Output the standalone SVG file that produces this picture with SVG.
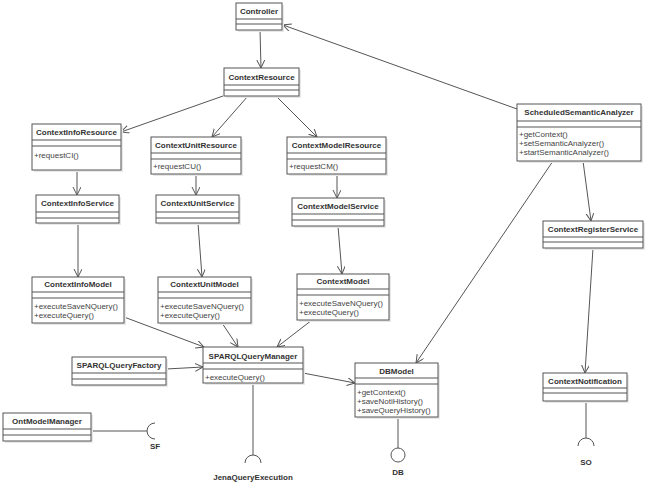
<svg xmlns="http://www.w3.org/2000/svg" width="661" height="483" viewBox="0 0 661 483">
<style>
.box{fill:#fff;stroke:#555;stroke-width:1}
.sh{fill:#e8e8e8;stroke:none}
.sep{stroke:#555;stroke-width:1}
.nm{font-family:"Liberation Sans",Arial,sans-serif;font-size:8px;font-weight:bold;fill:#333;text-anchor:middle}
.op{font-family:"Liberation Sans",Arial,sans-serif;font-size:8px;fill:#444}
.lb{font-family:"Liberation Sans",Arial,sans-serif;font-size:8px;font-weight:bold;fill:#333;text-anchor:middle}
.ln{stroke:#555;stroke-width:1;fill:none}
.ar{marker-end:url(#arr)}
</style>
<defs>
<marker id="arr" markerUnits="userSpaceOnUse" markerWidth="10" markerHeight="10" refX="8" refY="4" orient="auto">
<path d="M0,0 L8,4 L0,8" fill="none" stroke="#555" stroke-width="1"/>
</marker>
</defs>
<rect width="661" height="483" fill="#fff"/>

<g id="connectors">
<line class="ln ar" x1="260" y1="30" x2="261" y2="68"/>
<line class="ln ar" x1="517" y1="109" x2="283" y2="25"/>
<line class="ln ar" x1="223" y1="96" x2="121" y2="132"/>
<line class="ln ar" x1="248" y1="96" x2="212" y2="137"/>
<line class="ln ar" x1="276" y1="96" x2="317" y2="137"/>
<line class="ln ar" x1="77" y1="170" x2="77" y2="195"/>
<line class="ln ar" x1="196" y1="174" x2="196" y2="195"/>
<line class="ln ar" x1="337" y1="174" x2="337" y2="198"/>
<line class="ln ar" x1="78" y1="223" x2="78" y2="277"/>
<line class="ln ar" x1="198" y1="223" x2="202" y2="277"/>
<line class="ln ar" x1="338" y1="226" x2="342" y2="274"/>
<line class="ln ar" x1="124" y1="317" x2="204" y2="347"/>
<line class="ln ar" x1="222" y1="323" x2="238" y2="347"/>
<line class="ln ar" x1="312" y1="320" x2="277" y2="347"/>
<line class="ln ar" x1="166" y1="369" x2="203" y2="367"/>
<line class="ln ar" x1="303" y1="373" x2="355" y2="383"/>
<line class="ln ar" x1="553" y1="161" x2="416" y2="363"/>
<line class="ln ar" x1="583" y1="161" x2="591" y2="221"/>
<line class="ln ar" x1="593" y1="248" x2="585" y2="373"/>
<line class="ln" x1="91" y1="431" x2="147" y2="431"/>
<path class="ln" d="M155,423 A8,8 0 0 0 155,439"/>
<line class="ln" x1="253" y1="383" x2="253" y2="455"/>
<path class="ln" d="M245,463 A8,8 0 0 1 261,463"/>
<line class="ln" x1="398" y1="417" x2="398" y2="448"/>
<circle class="ln" cx="398" cy="455" r="7"/>
<line class="ln" x1="586" y1="401" x2="586" y2="438"/>
<path class="ln" d="M578,446 A8,8 0 0 1 594,446"/>
<text class="lb" x="155" y="449">SF</text>
<text class="lb" x="253" y="480">JenaQueryExecution</text>
<text class="lb" x="398" y="475">DB</text>
<text class="lb" x="586" y="465">SO</text>
</g>

<g id="controller">
<rect class="sh" x="238" y="5" width="46" height="27"/>
<rect class="box" x="236" y="3" width="46" height="27"/>
<line class="sep" x1="236" y1="19" x2="282" y2="19"/><line class="sep" x1="236" y1="24" x2="282" y2="24"/>
<text class="nm" x="259" y="14">Controller</text>
</g>

<g id="contextResource">
<rect class="sh" x="226" y="70" width="75" height="28"/>
<rect class="box" x="224" y="68" width="75" height="28"/>
<line class="sep" x1="224" y1="85" x2="299" y2="85"/><line class="sep" x1="224" y1="90" x2="299" y2="90"/>
<text class="nm" x="261.5" y="80">ContextResource</text>
</g>

<g id="contextInfoResource">
<rect class="sh" x="34" y="126" width="89" height="46"/>
<rect class="box" x="32" y="124" width="89" height="46"/>
<line class="sep" x1="32" y1="140" x2="121" y2="140"/><line class="sep" x1="32" y1="146" x2="121" y2="146"/>
<text class="nm" x="76.5" y="135">ContextInfoResource</text>
<text class="op" x="34" y="158">+requestCI()</text>
</g>

<g id="contextUnitResource">
<rect class="sh" x="153" y="139" width="90" height="37"/>
<rect class="box" x="151" y="137" width="90" height="37"/>
<line class="sep" x1="151" y1="153" x2="241" y2="153"/><line class="sep" x1="151" y1="159" x2="241" y2="159"/>
<text class="nm" x="196" y="148">ContextUnitResource</text>
<text class="op" x="153" y="169">+requestCU()</text>
</g>

<g id="contextModelResource">
<rect class="sh" x="289" y="139" width="99" height="37"/>
<rect class="box" x="287" y="137" width="99" height="37"/>
<line class="sep" x1="287" y1="153" x2="386" y2="153"/><line class="sep" x1="287" y1="159" x2="386" y2="159"/>
<text class="nm" x="336.5" y="148">ContextModelResource</text>
<text class="op" x="289" y="169">+requestCM()</text>
</g>

<g id="contextInfoService">
<rect class="sh" x="38" y="197" width="83" height="28"/>
<rect class="box" x="36" y="195" width="83" height="28"/>
<line class="sep" x1="36" y1="212" x2="119" y2="212"/><line class="sep" x1="36" y1="218" x2="119" y2="218"/>
<text class="nm" x="77.5" y="206">ContextInfoService</text>
</g>

<g id="contextUnitService">
<rect class="sh" x="158" y="197" width="83" height="28"/>
<rect class="box" x="156" y="195" width="83" height="28"/>
<line class="sep" x1="156" y1="212" x2="239" y2="212"/><line class="sep" x1="156" y1="218" x2="239" y2="218"/>
<text class="nm" x="197.5" y="206">ContextUnitService</text>
</g>

<g id="contextModelService">
<rect class="sh" x="294" y="200" width="92" height="28"/>
<rect class="box" x="292" y="198" width="92" height="28"/>
<line class="sep" x1="292" y1="214" x2="384" y2="214"/><line class="sep" x1="292" y1="220" x2="384" y2="220"/>
<text class="nm" x="338" y="209">ContextModelService</text>
</g>

<g id="contextInfoModel">
<rect class="sh" x="34" y="279" width="92" height="46"/>
<rect class="box" x="32" y="277" width="92" height="46"/>
<line class="sep" x1="32" y1="292" x2="124" y2="292"/><line class="sep" x1="32" y1="298" x2="124" y2="298"/>
<text class="nm" x="78" y="287">ContextInfoModel</text>
<text class="op" x="34" y="309">+executeSaveNQuery()</text>
<text class="op" x="34" y="318">+executeQuery()</text>
</g>

<g id="contextUnitModel">
<rect class="sh" x="160" y="279" width="93" height="46"/>
<rect class="box" x="158" y="277" width="93" height="46"/>
<line class="sep" x1="158" y1="292" x2="251" y2="292"/><line class="sep" x1="158" y1="298" x2="251" y2="298"/>
<text class="nm" x="204.5" y="287">ContextUnitModel</text>
<text class="op" x="160" y="309">+executeSaveNQuery()</text>
<text class="op" x="160" y="318">+executeQuery()</text>
</g>

<g id="contextModel">
<rect class="sh" x="299" y="276" width="92" height="46"/>
<rect class="box" x="297" y="274" width="92" height="46"/>
<line class="sep" x1="297" y1="289" x2="389" y2="289"/><line class="sep" x1="297" y1="295" x2="389" y2="295"/>
<text class="nm" x="343" y="284">ContextModel</text>
<text class="op" x="299" y="306">+executeSaveNQuery()</text>
<text class="op" x="299" y="315">+executeQuery()</text>
</g>

<g id="sparqlQueryManager">
<rect class="sh" x="205" y="349" width="100" height="36"/>
<rect class="box" x="203" y="347" width="100" height="36"/>
<line class="sep" x1="203" y1="363" x2="303" y2="363"/><line class="sep" x1="203" y1="369" x2="303" y2="369"/>
<text class="nm" x="253" y="359">SPARQLQueryManager</text>
<text class="op" x="205" y="380">+executeQuery()</text>
</g>

<g id="sparqlQueryFactory">
<rect class="sh" x="74" y="359" width="94" height="28"/>
<rect class="box" x="72" y="357" width="94" height="28"/>
<line class="sep" x1="72" y1="373" x2="166" y2="373"/><line class="sep" x1="72" y1="379" x2="166" y2="379"/>
<text class="nm" x="119" y="368">SPARQLQueryFactory</text>
</g>

<g id="ontModelManager">
<rect class="sh" x="5" y="415" width="88" height="28"/>
<rect class="box" x="3" y="413" width="88" height="28"/>
<line class="sep" x1="3" y1="429" x2="91" y2="429"/><line class="sep" x1="3" y1="435" x2="91" y2="435"/>
<text class="nm" x="47" y="424">OntModelManager</text>
</g>

<g id="scheduledSemanticAnalyzer">
<rect class="sh" x="519" y="106" width="124" height="57"/>
<rect class="box" x="517" y="104" width="124" height="57"/>
<line class="sep" x1="517" y1="121" x2="641" y2="121"/><line class="sep" x1="517" y1="127" x2="641" y2="127"/>
<text class="nm" x="579" y="115">ScheduledSemanticAnalyzer</text>
<text class="op" x="519" y="137">+getContext()</text>
<text class="op" x="519" y="146">+setSemanticAnalyzer()</text>
<text class="op" x="519" y="155">+startSemanticAnalyzer()</text>
</g>

<g id="contextRegisterService">
<rect class="sh" x="545" y="223" width="100" height="27"/>
<rect class="box" x="543" y="221" width="100" height="27"/>
<line class="sep" x1="543" y1="237" x2="643" y2="237"/><line class="sep" x1="543" y1="242" x2="643" y2="242"/>
<text class="nm" x="593" y="232">ContextRegisterService</text>
</g>

<g id="contextNotification">
<rect class="sh" x="545" y="375" width="84" height="28"/>
<rect class="box" x="543" y="373" width="84" height="28"/>
<line class="sep" x1="543" y1="388" x2="627" y2="388"/><line class="sep" x1="543" y1="393" x2="627" y2="393"/>
<text class="nm" x="585" y="384">ContextNotification</text>
</g>

<g id="dbModel">
<rect class="sh" x="357" y="365" width="83" height="54"/>
<rect class="box" x="355" y="363" width="83" height="54"/>
<line class="sep" x1="355" y1="378" x2="438" y2="378"/><line class="sep" x1="355" y1="384" x2="438" y2="384"/>
<text class="nm" x="396.5" y="373.5">DBModel</text>
<text class="op" x="357" y="395">+getContext()</text>
<text class="op" x="357" y="404">+saveNotiHistory()</text>
<text class="op" x="357" y="413">+saveQueryHistory()</text>
</g>
</svg>
